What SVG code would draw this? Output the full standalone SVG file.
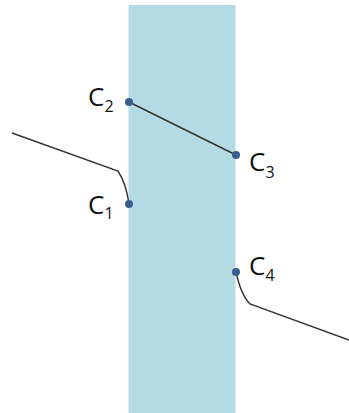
<svg xmlns="http://www.w3.org/2000/svg" width="349" height="413" viewBox="0 0 349 413">
<style>
.lbl{font-family:"Open Sans","Liberation Sans",sans-serif;font-size:26px;fill:#111}
.sub{font-size:16px}
.ln{fill:none;stroke:#333;stroke-width:1.4}
.dot{fill:#3a5f8f}
</style>
<rect x="128.5" y="5" width="107" height="408" fill="#b4dbe4"/>
<g id="connectors">
<line class="ln" x1="129" y1="102" x2="236" y2="155"/>
<path class="ln" d="M12,133 L118,171 Q126,183 129,204"/>
<path class="ln" d="M236,272 Q241,295 250,304 L349,340"/>
</g>
<g id="C1"><circle class="dot" cx="129" cy="204" r="4"/><text class="lbl" x="88" y="214">C<tspan class="sub" dy="5">1</tspan></text></g>
<g id="C2"><circle class="dot" cx="129" cy="102" r="4"/><text class="lbl" x="88" y="106">C<tspan class="sub" dy="6">2</tspan></text></g>
<g id="C3"><circle class="dot" cx="236" cy="155" r="4"/><text class="lbl" x="249" y="171">C<tspan class="sub" dy="7">3</tspan></text></g>
<g id="C4"><circle class="dot" cx="236" cy="272" r="4"/><text class="lbl" x="249" y="275">C<tspan class="sub" dy="6">4</tspan></text></g>
</svg>
